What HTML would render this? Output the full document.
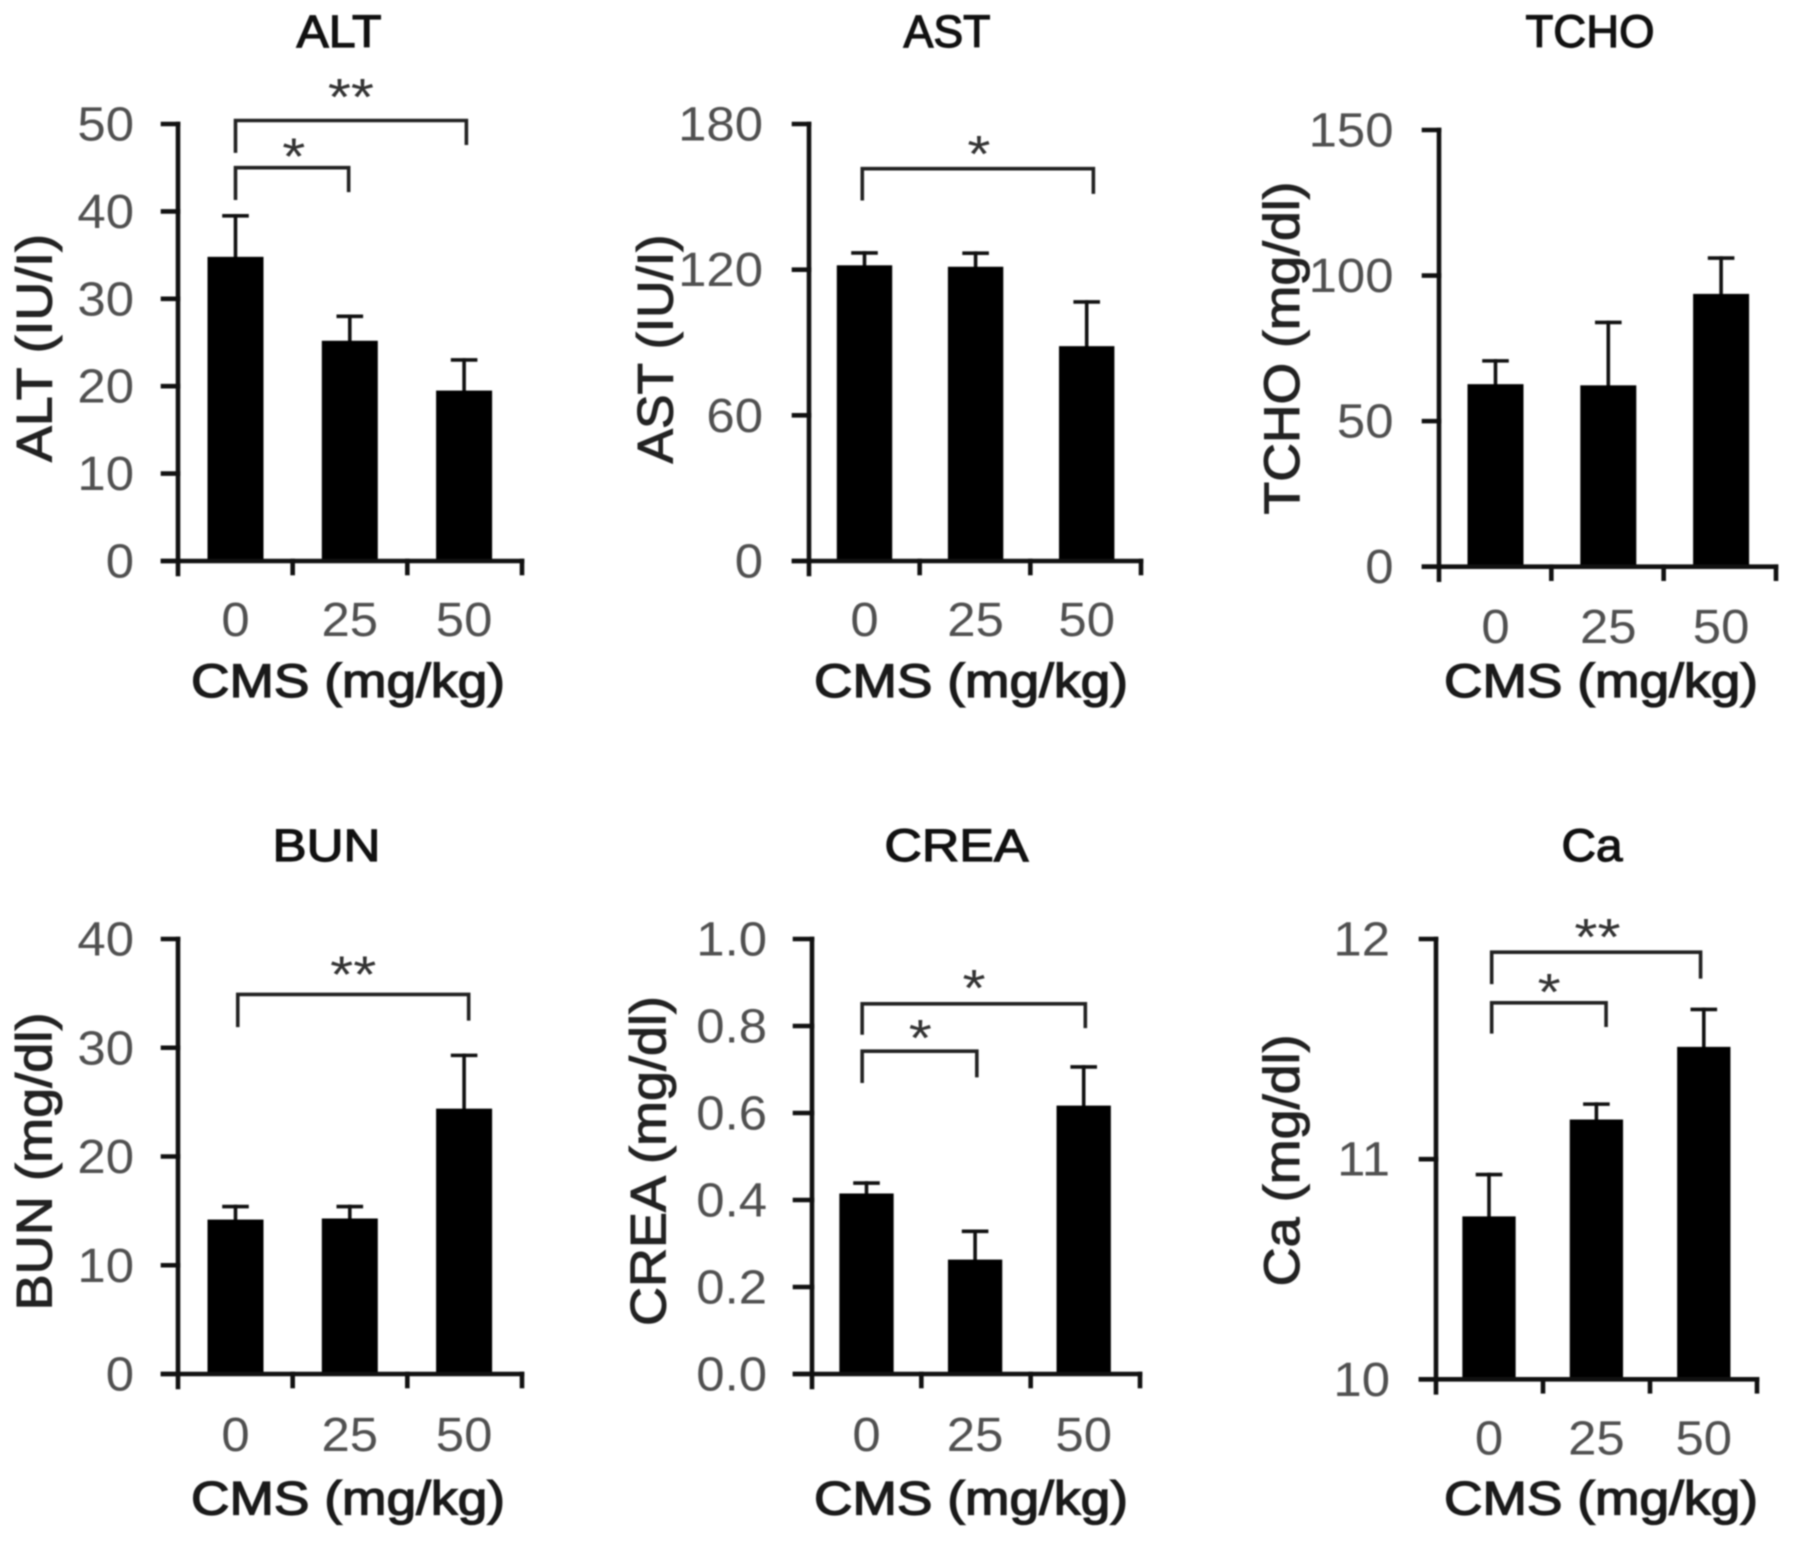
<!DOCTYPE html>
<html lang="en">
<head>
<meta charset="utf-8">
<title>Serum biochemistry bar charts</title>
<style>
html,body{margin:0;padding:0;background:#fff;}
#figure{display:block;filter:blur(0.8px);}
text{font-family:"Liberation Sans",sans-serif;}
</style>
</head>
<body>
<svg id="figure" xmlns="http://www.w3.org/2000/svg" width="1795" height="1543" viewBox="0 0 1795 1543"></svg>
<script>
const doses = ['0', '25', '50'];

const altValues = [34.8, 25.2, 19.5];
const altErrors = [4.7, 2.8, 3.5];
const altTicks = [0, 10, 20, 30, 40, 50];
const altTickLabels = ['0', '10', '20', '30', '40', '50'];
const altBrackets = [
  {from: 0, to: 2.02, top: 50.4, leftEnd: 46.7, rightEnd: 47.6, mark: '**', markAt: 1.01, markLevel: 53.9},
  {from: 0, to: 0.99, top: 45.0, leftEnd: 41.3, rightEnd: 42.2, mark: '*', markAt: 0.51, markLevel: 47.1}
];

const astValues = [121.8, 121.2, 88.5];
const astErrors = [5.1, 5.6, 18.2];
const astTicks = [0, 60, 120, 180];
const astTickLabels = ['0', '60', '120', '180'];
const astBrackets = [
  {from: -0.02, to: 2.06, top: 161.6, leftEnd: 148.5, rightEnd: 151.2, mark: '*', markAt: 1.03, markLevel: 170.6}
];

const tchoValues = [62.7, 62.3, 93.7];
const tchoErrors = [8.0, 21.6, 12.3];
const tchoTicks = [0, 50, 100, 150];
const tchoTickLabels = ['0', '50', '100', '150'];
const tchoBrackets = [];

const bunValues = [14.2, 14.3, 24.4];
const bunErrors = [1.2, 1.1, 4.9];
const bunTicks = [0, 10, 20, 30, 40];
const bunTickLabels = ['0', '10', '20', '30', '40'];
const bunBrackets = [
  {from: 0.02, to: 2.04, top: 34.9, leftEnd: 31.9, rightEnd: 32.5, mark: '**', markAt: 1.03, markLevel: 37.4}
];

const creaValues = [0.415, 0.263, 0.617];
const creaErrors = [0.024, 0.065, 0.089];
const creaTicks = [0, 0.2, 0.4, 0.6, 0.8, 1.0];
const creaTickLabels = ['0.0', '0.2', '0.4', '0.6', '0.8', '1.0'];
const creaBrackets = [
  {from: -0.04, to: 2.015, top: 0.851, leftEnd: 0.780, rightEnd: 0.795, mark: '*', markAt: 0.99, markLevel: 0.903},
  {from: -0.04, to: 1.016, top: 0.742, leftEnd: 0.669, rightEnd: 0.682, mark: '*', markAt: 0.495, markLevel: 0.789}
];

const caValues = [10.74, 11.18, 11.51];
const caErrors = [0.19, 0.07, 0.17];
const caTicks = [10, 11, 12];
const caTickLabels = ['10', '11', '12'];
const caBrackets = [
  {from: 0.025, to: 1.97, top: 11.94, leftEnd: 11.795, rightEnd: 11.82, mark: '**', markAt: 1.01, markLevel: 12.04},
  {from: 0.025, to: 1.09, top: 11.71, leftEnd: 11.57, rightEnd: 11.60, mark: '*', markAt: 0.56, markLevel: 11.79}
];

const panels = [
  {key: 'alt', title: 'ALT', titleX: 339, titleY: 47, titleLen: 85, yTitle: 'ALT (IU/I)', yTitleX: 51.5, yTitleY: 348, yTitleLen: 228,
   axisX: 178, xEnd: 522, leftX: 163, y0: 561, yTop: 124, cx0: 235.5, barStep: 114.3, barW: 56,
   labelRight: 134, xLabelY: 636, cmsX: 348, cmsY: 697,
   min: 0, max: 50, values: altValues, errors: altErrors, ticks: altTicks, tickLabels: altTickLabels, brackets: altBrackets},
  {key: 'ast', title: 'AST', titleX: 947, titleY: 47, titleLen: 87, yTitle: 'AST (IU/I)', yTitleX: 672.5, yTitleY: 349, yTitleLen: 229,
   axisX: 809, xEnd: 1141, leftX: 794, y0: 561, yTop: 124, cx0: 864.5, barStep: 111.1, barW: 55.4,
   labelRight: 763, xLabelY: 636, cmsX: 971, cmsY: 697,
   min: 0, max: 180, values: astValues, errors: astErrors, ticks: astTicks, tickLabels: astTickLabels, brackets: astBrackets},
  {key: 'tcho', title: 'TCHO', titleX: 1590, titleY: 47, titleLen: 129, yTitle: 'TCHO (mg/dl)', yTitleX: 1298.8, yTitleY: 348, yTitleLen: 333,
   axisX: 1439, xEnd: 1776, leftX: 1424, y0: 566.7, yTop: 130, cx0: 1495.5, barStep: 112.8, barW: 56,
   labelRight: 1393.5, xLabelY: 643, cmsX: 1601, cmsY: 697,
   min: 0, max: 150, values: tchoValues, errors: tchoErrors, ticks: tchoTicks, tickLabels: tchoTickLabels, brackets: tchoBrackets},
  {key: 'bun', title: 'BUN', titleX: 326.5, titleY: 861, titleLen: 108, yTitle: 'BUN (mg/dl)', yTitleX: 51.5, yTitleY: 1161.5, yTitleLen: 298,
   axisX: 178, xEnd: 522, leftX: 163, y0: 1374, yTop: 939, cx0: 235.5, barStep: 114.3, barW: 56,
   labelRight: 134, xLabelY: 1451, cmsX: 348, cmsY: 1514.7,
   min: 0, max: 40, values: bunValues, errors: bunErrors, ticks: bunTicks, tickLabels: bunTickLabels, brackets: bunBrackets},
  {key: 'crea', title: 'CREA', titleX: 956.4, titleY: 861, titleLen: 144, yTitle: 'CREA (mg/dl)', yTitleX: 665.6, yTitleY: 1161, yTitleLen: 330,
   axisX: 812, xEnd: 1140, leftX: 795, y0: 1374, yTop: 939, cx0: 866.5, barStep: 108.6, barW: 54.3,
   labelRight: 767, xLabelY: 1451, cmsX: 971, cmsY: 1514.7,
   min: 0, max: 1, values: creaValues, errors: creaErrors, ticks: creaTicks, tickLabels: creaTickLabels, brackets: creaBrackets},
  {key: 'ca', title: 'Ca', titleX: 1592, titleY: 861, titleLen: 61, yTitle: 'Ca (mg/dl)', yTitleX: 1298.8, yTitleY: 1160.4, yTitleLen: 252,
   axisX: 1436, xEnd: 1757, leftX: 1421, y0: 1379.3, yTop: 939, cx0: 1489, barStep: 107.4, barW: 53.3,
   labelRight: 1390, xLabelY: 1454.4, cmsX: 1601, cmsY: 1514.7,
   min: 10, max: 12, values: caValues, errors: caErrors, ticks: caTicks, tickLabels: caTickLabels, brackets: caBrackets}
];

const SVG_NS = 'http://www.w3.org/2000/svg';
const figure = document.getElementById('figure');

function makeEl(parent, tag, name) {
  const el = document.createElementNS(SVG_NS, tag);
  
  
  parent.appendChild(el);
  return el;
}

function line(parent, name, x1, y1, x2, y2, width, color) {
  const el = makeEl(parent, 'line', name);
  el.setAttribute('x1', x1);
  el.setAttribute('y1', y1);
  el.setAttribute('x2', x2);
  el.setAttribute('y2', y2);
  el.setAttribute('stroke', color);
  el.setAttribute('stroke-width', width);
  el.setAttribute('stroke-linecap', 'square');
  return el;
}

function label(parent, name, str, x, y, size, anchor, color, stretch, weightStroke) {
  const el = makeEl(parent, 'text', name);
  el.setAttribute('transform', 'translate(' + x + ',' + y + ') scale(' + stretch + ',1)');
  el.setAttribute('font-size', size);
  el.setAttribute('text-anchor', anchor);
  el.setAttribute('fill', color);
  if (weightStroke) {
    el.setAttribute('stroke', color);
    el.setAttribute('stroke-width', weightStroke);
  }
  el.textContent = str;
  return el;
}

function drawPanel(p) {
  const g = makeEl(figure, 'g', p.key + '-panel');
  const yScale = v => p.y0 - (v - p.min) / (p.max - p.min) * (p.y0 - p.yTop);
  const xScale = i => p.cx0 + i * p.barStep;
  const xTickStep = (p.xEnd - p.axisX) / doses.length;

  const ttl = makeEl(g, 'text', p.key + '-title');
  ttl.setAttribute('x', p.titleX);
  ttl.setAttribute('y', p.titleY);
  ttl.setAttribute('font-size', 45);
  ttl.setAttribute('text-anchor', 'middle');
  ttl.setAttribute('fill', '#111');
  ttl.setAttribute('stroke', '#111');
  ttl.setAttribute('stroke-width', 1.2);
  ttl.setAttribute('textLength', p.titleLen);
  ttl.setAttribute('lengthAdjust', 'spacingAndGlyphs');
  ttl.textContent = p.title;

  const yt = makeEl(g, 'text', 'y-axis-title');
  yt.setAttribute('transform', 'translate(' + p.yTitleX + ',' + p.yTitleY + ') rotate(-90)');
  yt.setAttribute('font-size', 50);
  yt.setAttribute('text-anchor', 'middle');
  yt.setAttribute('fill', '#222');
  yt.setAttribute('stroke', '#222');
  yt.setAttribute('stroke-width', 1);
  yt.setAttribute('textLength', p.yTitleLen);
  yt.setAttribute('lengthAdjust', 'spacingAndGlyphs');
  yt.textContent = p.yTitle;

  p.values.forEach((v, i) => {
    const cx = xScale(i);
    const top = yScale(v + p.errors[i]);
    line(g, 'error-stem-' + doses[i], cx, yScale(v), cx, top, 3.6, '#111');
    line(g, 'error-cap-' + doses[i], cx - 11.5, top, cx + 11.5, top, 3.6, '#111');
    const bar = makeEl(g, 'rect', 'bar-' + doses[i]);
    bar.setAttribute('x', cx - p.barW / 2);
    bar.setAttribute('y', yScale(v));
    bar.setAttribute('width', p.barW);
    bar.setAttribute('height', p.y0 - yScale(v));
    bar.setAttribute('fill', '#000');
  });

  line(g, 'y-axis-line', p.axisX, yScale(p.max), p.axisX, p.y0 + 13, 4.6, '#111');
  line(g, 'x-axis-line', p.leftX, p.y0, p.xEnd, p.y0, 4.6, '#111');

  p.ticks.forEach((t, i) => {
    line(g, 'y-tick', p.leftX, yScale(t), p.axisX, yScale(t), 4.6, '#111');
    label(g, 'y-tick-label', p.tickLabels[i], p.labelRight, yScale(t) + 16.5, 48, 'end', '#505050', 1.06, 0);
  });

  for (let i = 1; i <= doses.length; i++) {
    const tx = p.axisX + i * xTickStep;
    line(g, 'x-tick', tx, p.y0, tx, p.y0 + 12, 4.6, '#111');
  }

  doses.forEach((d, i) => {
    label(g, 'x-tick-label', d, xScale(i), p.xLabelY, 48, 'middle', '#505050', 1.06, 0);
  });

  const cms = makeEl(g, 'text', 'x-axis-title');
  cms.setAttribute('x', p.cmsX);
  cms.setAttribute('y', p.cmsY);
  cms.setAttribute('font-size', 47);
  cms.setAttribute('text-anchor', 'middle');
  cms.setAttribute('fill', '#1a1a1a');
  cms.setAttribute('stroke', '#1a1a1a');
  cms.setAttribute('stroke-width', 1.3);
  cms.setAttribute('textLength', 314);
  cms.setAttribute('lengthAdjust', 'spacingAndGlyphs');
  cms.textContent = 'CMS (mg/kg)';

  p.brackets.forEach(b => {
    const path = makeEl(g, 'path', 'significance-bracket');
    path.setAttribute('d', 'M' + xScale(b.from) + ' ' + yScale(b.leftEnd) +
      'V' + yScale(b.top) + 'H' + xScale(b.to) + 'V' + yScale(b.rightEnd));
    path.setAttribute('fill', 'none');
    path.setAttribute('stroke', '#222');
    path.setAttribute('stroke-width', 3.6);
    label(g, 'significance-mark', b.mark, xScale(b.markAt), yScale(b.markLevel) + 25, 52, 'middle', '#333', 1.14, 0);
  });
}

panels.forEach(drawPanel);
</script>
</body>
</html>
